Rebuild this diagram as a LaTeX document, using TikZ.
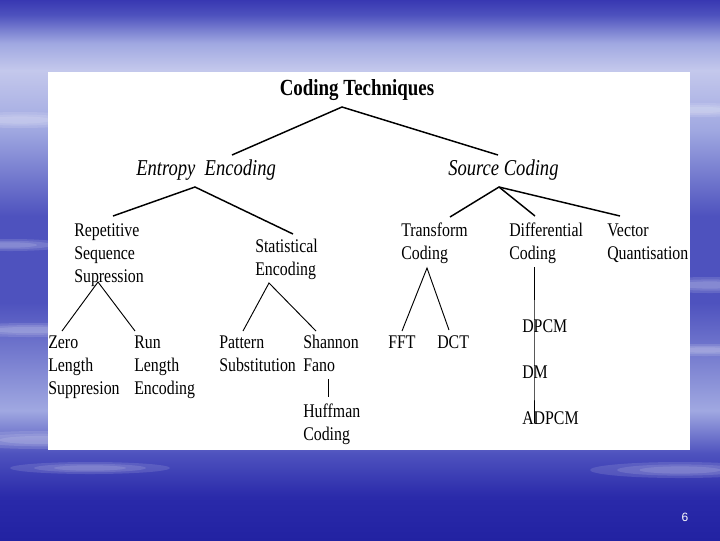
\documentclass[tikz,border=0pt]{standalone}
\usepackage{fontspec}
\setmainfont{Liberation Serif}[FakeStretch=0.82]
\setsansfont{Liberation Sans}
\usepackage{tikz}
\usetikzlibrary{calc}

\definecolor{bgtop}{RGB}{56,56,178}
\definecolor{bgmid}{RGB}{78,82,190}
\definecolor{bgpale}{RGB}{160,168,225}
\definecolor{bglight}{RGB}{196,200,236}
\definecolor{bgdark}{RGB}{42,42,170}
\definecolor{bgdeep}{RGB}{34,34,162}

% slide background, stops from bottom (25bp) to top (75bp)
\pgfdeclareverticalshading{slidebg}{100bp}{color(0bp)=(bgdeep); color(25bp)=(bgdeep);
  color(29bp)=(bgdark); color(33bp)=(bgmid); color(37bp)=(bgpale); color(47bp)=(bgmid);
  color(55bp)=(bgmid); color(63bp)=(bgpale); color(68.5bp)=(bglight); color(71bp)=(bgpale);
  color(73.6bp)=(bgmid); color(75bp)=(bgtop); color(100bp)=(bgtop)}

\begin{document}
\begin{tikzpicture}[
    x={(0.75pt,0pt)}, y={(0pt,-0.75pt)},
    every node/.style={inner sep=0pt, font=\fontsize{14.5}{17.25}\selectfont},
    lbl/.style={anchor=base west, align=left},
    ttl/.style={anchor=base, font=\bfseries\fontsize{17.3}{20}\selectfont},
    enc/.style={anchor=base west, font=\itshape\fontsize{17}{20}\selectfont},
    streak/.style={fill=white, opacity=0.12},
    branch/.style={line width=1.1pt},
    twig/.style={line width=0.7pt}
    ]

    \useasboundingbox (0,0) rectangle (720,540);
    \shade[shading=slidebg] (0,0) rectangle (720,540);
    % soft light streaks at the sides
    \foreach \sx/\sy/\sw/\sh in {20/120/70/8, 10/245/60/6, 30/330/80/7, 40/440/90/9,
        700/110/60/7, 710/285/70/8, 705/350/60/6, 680/470/90/8, 90/468/80/6}
      \foreach \k in {1,0.7,0.45}
        \fill[streak] (\sx,\sy) ellipse ({\sw*\k} and {\sh*\k});
    \fill[white] (48,72) rectangle (690,450);

    \node[ttl] (ct) at (357,95) {Coding Techniques};
    \node[enc] (ee) at (136,175) {Entropy\ \ Encoding};
    \node[enc] (sc) at (448,175) {Source Coding};

    % multi-line nodes sit on the baseline of their last line
    \node[lbl] (rss) at (74,282) {Repetitive\\Sequence\\Supression};
    \node[lbl] (se) at (255,275) {Statistical\\Encoding};
    \node[lbl] (tc) at (401,259) {Transform\\Coding};
    \node[lbl] (dc) at (509,259) {Differential\\Coding};
    \node[lbl] (vq) at (607,259) {Vector\\Quantisation};

    \node[lbl] (zls) at (48,394) {Zero\\Length\\Suppresion};
    \node[lbl] (rle) at (134,394) {Run\\Length\\Encoding};
    \node[lbl] (ps) at (219,371) {Pattern\\Substitution};
    \node[lbl] (sf) at (303,371) {Shannon\\Fano};
    \node[lbl] (hc) at (303,440) {Huffman\\Coding};
    \node[lbl] (fft) at (388,348) {FFT};
    \node[lbl] (dct) at (437,348) {DCT};
    \node[lbl] (dpcm) at (522,332) {DPCM};
    \node[lbl] (dm) at (522,378) {DM};
    \node[lbl] (adpcm) at (522,424) {ADPCM};

    \node[font=\sffamily\fontsize{9}{10}\selectfont, text=white] (pg) at (685,517) {6};

    % forks
    \coordinate (ct-j) at ($(ct.base)+(-15,12)$);
    \coordinate (ee-j) at ($(ee.base west)+(59,12)$);
    \coordinate (sc-j) at ($(sc.base west)+(51,12)$);
    \coordinate (rss-j) at ($(rss.base west)+(24,0)$);
    \coordinate (se-j) at ($(se.base west)+(14,8)$);
    \coordinate (tc-j) at ($(tc.base west)+(26,9)$);

    \draw[branch] ($(ee.base west)+(96,-20)$) -- (ct-j) -- ($(sc.base west)+(50,-20)$);
    \draw[branch] ($(rss.base west)+(39,-66)$) -- (ee-j) -- ($(se.base west)+(38,-41)$);
    \draw[branch] ($(tc.base west)+(49,-42)$) -- (sc-j) -- ($(vq.base west)+(13,-43)$);
    \draw[branch] (sc-j) -- ($(dc.base west)+(26,-43)$);

    \draw[twig] ($(zls.base west)+(14,-63)$) -- (rss-j) -- ($(rle.base west)+(1,-63)$);
    \draw[twig] ($(ps.base west)+(24,-40)$) -- (se-j) -- ($(sf.base west)+(13,-40)$);
    \draw[twig] ($(fft.base west)+(14,-17)$) -- (tc-j) -- ($(dct.base west)+(12,-18)$);
    \draw[twig] ($(sf.base west)+(25,8)$) -- ($(hc.base west)+(25,-43)$);
    \draw[twig] ($(dc.base west)+(25,8)$) -- ($(dpcm.base west)+(12,0)$)
        -- ($(dm.base west)+(12,0)$) -- ($(adpcm.base west)+(12,-1)$);
\end{tikzpicture}
\end{document}
